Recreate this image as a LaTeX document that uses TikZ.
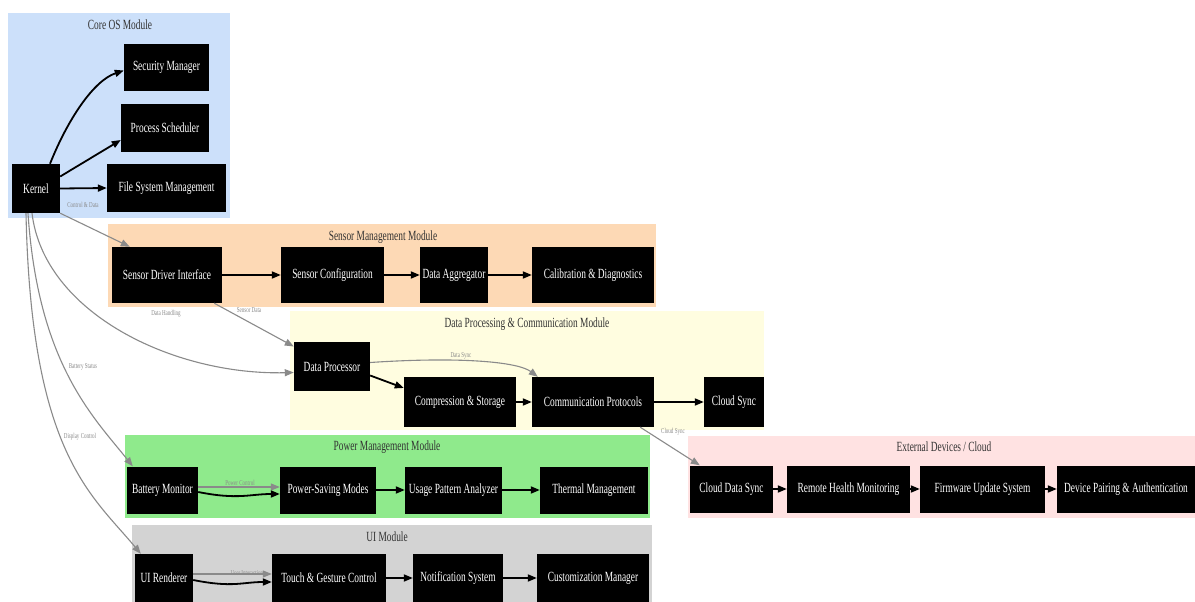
\documentclass[tikz,border=0pt]{standalone}
\usepackage{fontspec}
\setmainfont{Liberation Serif}[FakeStretch=0.67]
\usetikzlibrary{arrows.meta}
\definecolor{coreC}{HTML}{CCE0FA}
\definecolor{sensC}{HTML}{FDD9B5}
\definecolor{dataC}{HTML}{FFFDE0}
\definecolor{powC}{HTML}{8FEA8C}
\definecolor{uiC}{HTML}{D3D3D3}
\definecolor{extC}{HTML}{FFE2E2}
\definecolor{edgeG}{HTML}{8A8A8A}
\tikzset{
  box/.style={fill=black, text=white, font=\fontsize{14}{15}\selectfont, inner sep=0pt, align=center},
  ctitle/.style={font=\fontsize{14}{15}\selectfont, text=black!80},
  blk/.style={draw=black, line width=1.8pt, -{Triangle[length=9pt,width=7pt]}},
  gry/.style={draw=edgeG, line width=1.1pt, -{Triangle[length=9pt,width=7pt]}},
  elab/.style={font=\fontsize{7.5}{8}\selectfont, text=edgeG},
}
\newcommand{\bx}[6]{\node[box, minimum width=#4pt, minimum height=#5pt] (#1) at (#2,#3) {#6};}
\begin{document}
\begin{tikzpicture}[x=1pt,y=-1pt]
\useasboundingbox (0,0) rectangle (1195,602);
\fill[white] (0,0) rectangle (1195,602);
% clusters
\fill[coreC] (8,13) rectangle (230,218);
\node[ctitle] (tcore) at (120,25) {Core OS Module};
\fill[sensC] (108,224) rectangle (656,307);
\node[ctitle] (tsens) at (383,237) {Sensor Management Module};
\fill[dataC] (290,311) rectangle (764,430);
\node[ctitle] (tdata) at (527,324) {Data Processing \& Communication Module};
\fill[powC] (125,435) rectangle (650,518);
\node[ctitle] (tpow) at (387,447) {Power Management Module};
\fill[uiC] (132,525) rectangle (652,602);
\node[ctitle] (tui) at (387,537) {UI Module};
\fill[extC] (688,436) rectangle (1195,518);
\node[ctitle] (text) at (944,447) {External Devices / Cloud};
% nodes
\bx{kern}{36}{188.5}{48}{49}{Kernel}
\bx{sec}{166.5}{67.5}{85}{47}{Security Manager}
\bx{ps}{165}{128}{88}{48}{Process Scheduler}
\bx{fs}{166.5}{188}{119}{48}{File System Management}
\bx{sdi}{167}{275}{110}{56}{Sensor Driver Interface}
\bx{sc}{332.5}{275}{103}{56}{Sensor Configuration}
\bx{da}{454}{275}{68}{56}{Data Aggregator}
\bx{cd}{593}{275}{122}{56}{Calibration \& Diagnostics}
\bx{dp}{332}{366.5}{76}{49}{Data Processor}
\bx{cs}{460}{402}{112}{50}{Compression \& Storage}
\bx{cp}{593}{402}{122}{50}{Communication Protocols}
\bx{csy}{734}{402}{60}{50}{Cloud Sync}
\bx{bm}{162.5}{490}{71}{47}{Battery Monitor}
\bx{psm}{328}{490}{96}{47}{Power-Saving Modes}
\bx{upa}{453.5}{490}{97}{47}{Usage Pattern Analyzer}
\bx{tm}{594}{490}{108}{47}{Thermal Management}
\bx{uir}{164}{578}{58}{48}{UI Renderer}
\bx{tgc}{329}{578}{114}{48}{Touch \& Gesture Control}
\bx{ns}{458}{578}{90}{48}{Notification System}
\bx{cm}{593}{578}{112}{48}{Customization Manager}
\bx{cds}{731.5}{489}{83}{47}{Cloud Data Sync}
\bx{rhm}{848.5}{489}{123}{47}{Remote Health Monitoring}
\bx{fus}{982.5}{489}{125}{47}{Firmware Update System}
\bx{dpa}{1126}{489}{138}{47}{Device Pairing \& Authentication}
% core edges
\draw[blk] ([xshift=14pt]kern.north) .. controls +(18,-45) and +(-30,10) .. ([yshift=-3pt]sec.west);
\draw[blk] ([yshift=12pt]kern.east) -- ([yshift=-12pt]ps.west);
\draw[blk] (kern.east) -- (fs.west);
% gray edges from kernel
\draw[gry] (kern.south east) -- ([xshift=18pt]sdi.north west);
\node[elab] (lcd) at (83,205) {Control \& Data};
\draw[gry] ([xshift=-4pt]kern.south) .. controls +(12,100) and +(-120,3) .. ([yshift=-6pt]dp.west);
\node[elab] (ldh) at (166,314) {Data Handling};
\draw[gry] ([xshift=-8pt]kern.south) .. controls +(10,150) and +(-40,-50) .. ([xshift=6pt]bm.north west);
\node[elab] (lbs) at (83,367) {Battery Status};
\draw[gry] ([xshift=-10pt]kern.south) .. controls +(5,240) and +(-50,-60) .. ([xshift=6pt]uir.north west);
\node[elab] (ldc) at (80,437) {Display Control};
\draw[gry] ([xshift=-8pt]sdi.south east) -- ([yshift=20pt]dp.west);
\node[elab] (lsd) at (249,310) {Sensor Data};
% sensor chain
\draw[blk] (sdi) -- (sc);
\draw[blk] (sc) -- (da);
\draw[blk] (da) -- (cd);
% data chain
\draw[gry] ([yshift=4pt]dp.east) .. controls +(90,-6) and +(-20,-15) .. ([xshift=6pt]cp.north west);
\node[elab] (lds) at (461,356) {Data Sync};
\draw[blk] ([yshift=-9pt]dp.east) -- ([yshift=14pt]cs.west);
\draw[blk] (cs) -- (cp);
\draw[blk] (cp) -- (csy);
\draw[gry] ([xshift=-14pt]cp.south east) -- ([xshift=10pt]cds.north west);
\node[elab] (lcs) at (673,432) {Cloud Sync};
% power chain
\draw[gry] ([yshift=3pt]bm.east) -- ([yshift=3pt]psm.west);
\node[elab] (lpc) at (240,483) {Power Control};
\draw[blk] ([yshift=-2pt]bm.east) .. controls +(40,8) and +(-30,0) .. ([yshift=-4pt]psm.west);
\draw[blk] (psm) -- (upa);
\draw[blk] (upa) -- (tm);
% ui chain
\draw[gry] ([yshift=4pt]uir.east) -- ([yshift=4pt]tgc.west);
\node[elab] (lui) at (247,573) {User Interaction};
\draw[blk] ([yshift=-2pt]uir.east) .. controls +(40,8) and +(-30,0) .. ([yshift=-4pt]tgc.west);
\draw[blk] (tgc) -- (ns);
\draw[blk] (ns) -- (cm);
% external chain
\draw[blk] (cds) -- (rhm);
\draw[blk] (rhm) -- (fus);
\draw[blk] (fus) -- (dpa);
\end{tikzpicture}
\end{document}
